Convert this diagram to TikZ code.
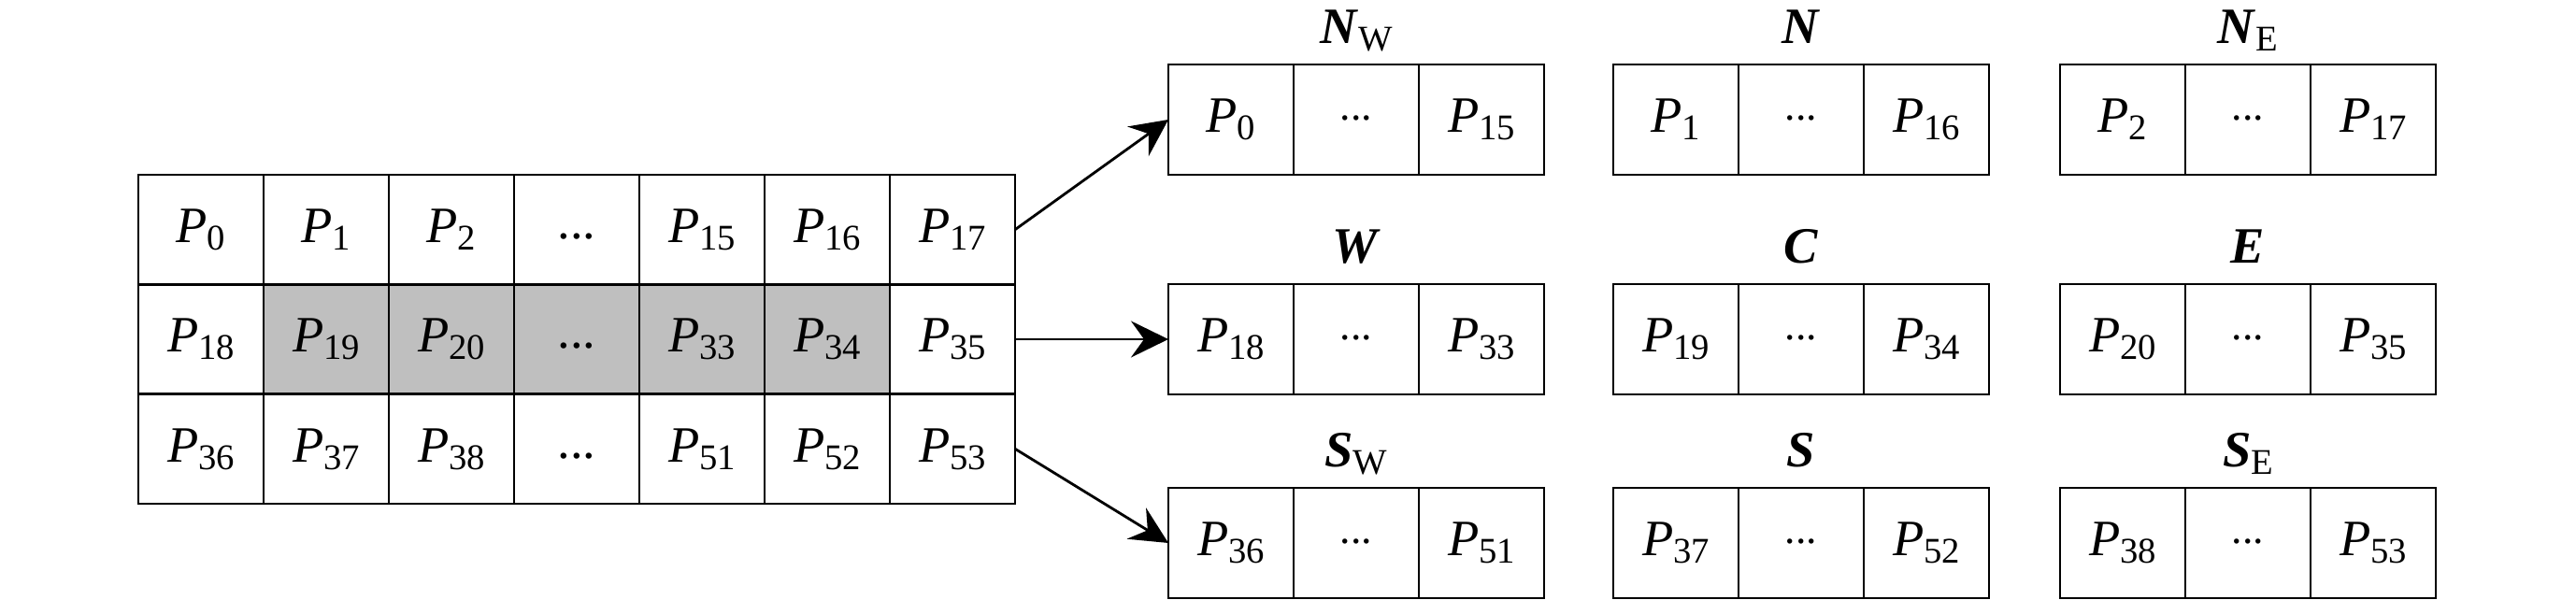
\documentclass[tikz,border=0pt]{standalone}
\usepackage{fontspec}
\setmainfont{Liberation Serif}
\usetikzlibrary{positioning,arrows.meta}
\definecolor{cellgray}{RGB}{191,191,191}
\tikzset{
    cell/.style={draw,line width=0.8pt,outer sep=0pt,inner sep=0pt,minimum width=1.34cm,minimum height=1.173cm,text height=0.36cm,text depth=0.08cm,font=\fontsize{15.5}{18}\selectfont},
    bcell/.style={cell,minimum height=1.18cm},
    lab/.style={inner sep=0pt,anchor=base,font=\fontsize{15.5}{18}\selectfont},
    arr/.style={line width=0.8pt,-{Stealth[length=4mm,width=3.9mm,inset=1.4mm]}}
}
\newcommand{\Pn}[1]{\textit{P}\raisebox{-0.08cm}{\fontsize{11}{11}\selectfont #1}}
\newcommand{\Nm}[2]{\textbf{\textit{#1}}\raisebox{-0.08cm}{\fontsize{11}{11}\selectfont #2}}
\newcommand{\gridDots}{\raisebox{0.04cm}{...}}
\newcommand{\boxDots}{\raisebox{0.13cm}{\fontsize{13}{13}\selectfont ...}}
\newcommand{\myCell}[4]{
    \node[cell] (#3) at (#1,#2) {#4};
}
\newcommand{\myGray}[4]{
    \node[cell,fill=cellgray] (#3) at (#1,#2) {#4};
}
\newcommand{\myBox}[5]{
    \node[bcell] (#3a) at (#1,#2) {\Pn{#4}};
    \node[bcell] (#3b) at (#1+1.34,#2) {\boxDots};
    \node[bcell] (#3c) at (#1+2.68,#2) {\Pn{#5}};
}

\begin{document}
\begin{tikzpicture}
      \useasboundingbox (0,0) rectangle (27.56,6.42);

      \myCell{2.15}{3.963}{p0}{\Pn{0}}
      \myCell{3.49}{3.963}{p1}{\Pn{1}}
      \myCell{4.83}{3.963}{p2}{\Pn{2}}
      \myCell{6.17}{3.963}{d1}{\gridDots}
      \myCell{7.51}{3.963}{p15}{\Pn{15}}
      \myCell{8.85}{3.963}{p16}{\Pn{16}}
      \myCell{10.19}{3.963}{p17}{\Pn{17}}

      \myCell{2.15}{2.79}{p18}{\Pn{18}}
      \myGray{3.49}{2.79}{p19}{\Pn{19}}
      \myGray{4.83}{2.79}{p20}{\Pn{20}}
      \myGray{6.17}{2.79}{d2}{\gridDots}
      \myGray{7.51}{2.79}{p33}{\Pn{33}}
      \myGray{8.85}{2.79}{p34}{\Pn{34}}
      \myCell{10.19}{2.79}{p35}{\Pn{35}}

      \myCell{2.15}{1.617}{p36}{\Pn{36}}
      \myCell{3.49}{1.617}{p37}{\Pn{37}}
      \myCell{4.83}{1.617}{p38}{\Pn{38}}
      \myCell{6.17}{1.617}{d3}{\gridDots}
      \myCell{7.51}{1.617}{p51}{\Pn{51}}
      \myCell{8.85}{1.617}{p52}{\Pn{52}}
      \myCell{10.19}{1.617}{p53}{\Pn{53}}

      \myBox{13.17}{5.14}{nw}{0}{15}
      \myBox{17.93}{5.14}{n}{1}{16}
      \myBox{22.71}{5.14}{ne}{2}{17}

      \myBox{13.17}{2.79}{w}{18}{33}
      \myBox{17.93}{2.79}{c}{19}{34}
      \myBox{22.71}{2.79}{e}{20}{35}

      \myBox{13.17}{0.61}{sw}{36}{51}
      \myBox{17.93}{0.61}{s}{37}{52}
      \myBox{22.71}{0.61}{se}{38}{53}

      \node[lab] (lnw) at ([yshift=0.22cm]nwb.north) {\Nm{N}{W}};
      \node[lab] (ln) at ([yshift=0.22cm]nb.north) {\Nm{N}{}};
      \node[lab] (lne) at ([yshift=0.22cm]neb.north) {\Nm{N}{E}};
      \node[lab] (lw) at ([yshift=0.22cm]wb.north) {\Nm{W}{}};
      \node[lab] (lc) at ([yshift=0.22cm]cb.north) {\Nm{C}{}};
      \node[lab] (le) at ([yshift=0.22cm]eb.north) {\Nm{E}{}};
      \node[lab] (lsw) at ([yshift=0.22cm]swb.north) {\Nm{S}{W}};
      \node[lab] (ls) at ([yshift=0.22cm]sb.north) {\Nm{S}{}};
      \node[lab] (lse) at ([yshift=0.22cm]seb.north) {\Nm{S}{E}};

      \draw[arr] (p17.east) -- (nwa.west);
      \draw[arr] (p35.east) -- (wa.west);
      \draw[arr] (p53.east) -- (swa.west);
\end{tikzpicture}
\end{document}
